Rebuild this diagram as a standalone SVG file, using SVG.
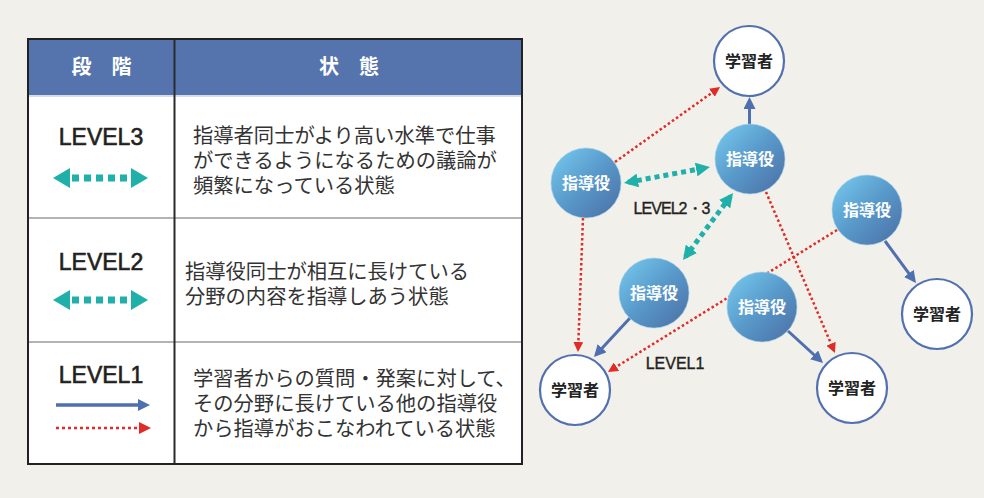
<svg xmlns="http://www.w3.org/2000/svg" width="984" height="498" viewBox="0 0 984 498">
<style>
.desc{font-family:"Noto Sans CJK JP","Noto Sans CJK SC",sans-serif;font-size:20.3px;fill:#333;}
.lvl{font-family:"Liberation Sans",Arial,sans-serif;font-size:23px;fill:#231f20;stroke:#231f20;stroke-width:0.6;text-anchor:middle;}
.lbl{font-family:"Liberation Sans",Arial,sans-serif;font-size:16px;fill:#231f20;stroke:#231f20;stroke-width:0.35;text-anchor:middle;}
.hdr{font-family:"Noto Sans CJK JP","Noto Sans CJK SC",sans-serif;font-size:20px;font-weight:bold;fill:#fff;text-anchor:middle;}
.shido circle{fill:url(#gShido);stroke:#9fd0ea;stroke-width:1;stroke-opacity:0.6;}
.shido text{font-family:"Noto Sans CJK JP","Noto Sans CJK SC",sans-serif;font-size:16px;font-weight:bold;fill:#fff;text-anchor:middle;}
.gaku circle{fill:#fff;stroke:#5270b0;stroke-width:2.2;}
.gaku text{font-family:"Noto Sans CJK JP","Noto Sans CJK SC",sans-serif;font-size:16px;font-weight:bold;fill:#222;text-anchor:middle;}
.blue{stroke:#4f6fb0;stroke-width:3;fill:none;marker-end:url(#mBlue);}
.red{stroke:#e02b27;stroke-width:2.5;stroke-dasharray:2.5 2.5;fill:none;marker-end:url(#mRed);}
.teal{stroke:#1fb0aa;stroke-width:5;stroke-dasharray:5 4;fill:none;marker-start:url(#mTeal);marker-end:url(#mTeal);}
</style>
<defs>
<linearGradient id="gShido" x1="0" y1="0" x2="1" y2="1">
<stop offset="0" stop-color="#78ccf1"/>
<stop offset="0.5" stop-color="#5899ca"/>
<stop offset="1" stop-color="#4b6da3"/>
</linearGradient>
<marker id="mBlue" viewBox="0 0 12 12" refX="9" refY="6" markerWidth="12" markerHeight="12" markerUnits="userSpaceOnUse" orient="auto"><path d="M0,0 L12,6 L0,12 z" fill="#4f6fb0"/></marker>
<marker id="mRed" viewBox="0 0 10 10" refX="7" refY="5" markerWidth="10" markerHeight="10" markerUnits="userSpaceOnUse" orient="auto"><path d="M0,0 L10,5 L0,10 z" fill="#e02b27"/></marker>
<marker id="mTeal" viewBox="0 0 14 14" refX="10" refY="7" markerWidth="14" markerHeight="14" markerUnits="userSpaceOnUse" orient="auto-start-reverse"><path d="M0,0 L14,7 L0,14 z" fill="#1fb0aa"/></marker>
</defs>
<rect x="0" y="0" width="984" height="498" fill="#f1f0ea"/>

<g id="table">
<rect x="28" y="39" width="494" height="425" fill="#fff"/>
<rect x="28" y="39" width="494" height="56" fill="#5574ae"/>
<line x1="28" y1="96" x2="522" y2="96" stroke="#c8cfdc" stroke-width="1.5"/>
<line x1="28" y1="218" x2="522" y2="218" stroke="#b3b3b3" stroke-width="2"/>
<line x1="28" y1="342" x2="522" y2="342" stroke="#b3b3b3" stroke-width="2"/>
<line x1="174.5" y1="39" x2="174.5" y2="464" stroke="#2a2a2a" stroke-width="2"/>
<rect x="28" y="39" width="494" height="425" fill="none" stroke="#222" stroke-width="2"/>
<text class="hdr" x="101.5" y="74">段　階</text>
<text class="hdr" x="349" y="74">状　態</text>
</g>

<g id="level3">
<text class="lvl" x="101" y="145">LEVEL3</text>
<line x1="72" y1="178" x2="129" y2="178" stroke="#1fb0aa" stroke-width="7" stroke-dasharray="7 5"/>
<polygon points="53,178 70,168 70,188" fill="#1fb0aa"/>
<polygon points="148,178 131,168 131,188" fill="#1fb0aa"/>
<text class="desc" x="193" y="143">指導者同士がより高い水準で仕事</text>
<text class="desc" x="193" y="168">ができるようになるための議論が</text>
<text class="desc" x="193" y="193">頻繁になっている状態</text>
</g>

<g id="level2">
<text class="lvl" x="101" y="270">LEVEL2</text>
<line x1="72" y1="300" x2="129" y2="300" stroke="#1fb0aa" stroke-width="7" stroke-dasharray="7 5"/>
<polygon points="53,300 70,290 70,310" fill="#1fb0aa"/>
<polygon points="148,300 131,290 131,310" fill="#1fb0aa"/>
<text class="desc" x="185" y="279">指導役同士が相互に長けている</text>
<text class="desc" x="185" y="304">分野の内容を指導しあう状態</text>
</g>

<g id="level1">
<text class="lvl" x="101" y="383">LEVEL1</text>
<line x1="56" y1="405" x2="140" y2="405" stroke="#4f6fb0" stroke-width="3.5"/>
<polygon points="150,405 138,399 138,411" fill="#4f6fb0"/>
<line x1="56" y1="428" x2="140" y2="428" stroke="#e02b27" stroke-width="2.5" stroke-dasharray="3 3"/>
<polygon points="151,428 139,422 139,434" fill="#e02b27"/>
<text class="desc" x="193" y="386">学習者からの質問・発案に対して、</text>
<text class="desc" x="193" y="411">その分野に長けている他の指導役</text>
<text class="desc" x="193" y="436">から指導がおこなわれている状態</text>
</g>

<g id="connectors">
<line class="blue" x1="749.5" y1="124" x2="749.5" y2="100"/>
<line class="red" x1="615" y1="162" x2="717.6" y2="88.7"/>
<line class="red" x1="583" y1="218" x2="578.1" y2="349"/>
<line class="red" x1="837" y1="230" x2="610.5" y2="370.4"/>
<line class="red" x1="766" y1="192" x2="833.8" y2="350.2"/>
<line class="blue" x1="630" y1="318" x2="596" y2="354.8"/>
<line class="blue" x1="788" y1="331" x2="820.8" y2="361"/>
<line class="blue" x1="885" y1="241" x2="914.2" y2="280.6"/>
<line class="teal" x1="628" y1="182.3" x2="706" y2="167.7"/>
<line class="teal" x1="730.6" y1="196.2" x2="685.4" y2="256.8"/>
</g>

<g id="labels">
<text class="lbl" x="672" y="214" textLength="77" lengthAdjust="spacing">LEVEL2・3</text>
<text class="lbl" x="675" y="369">LEVEL1</text>
</g>

<g id="gakushu-top" class="gaku"><circle cx="749" cy="61" r="35"/><text x="749" y="67">学習者</text></g>
<g id="shido-topright" class="shido"><circle cx="750" cy="159" r="35"/><text x="750" y="165">指導役</text></g>
<g id="shido-left" class="shido"><circle cx="586" cy="183" r="35"/><text x="586" y="189">指導役</text></g>
<g id="shido-right" class="shido"><circle cx="867" cy="210" r="35"/><text x="867" y="216">指導役</text></g>
<g id="shido-midleft" class="shido"><circle cx="654" cy="293" r="35"/><text x="654" y="299">指導役</text></g>
<g id="shido-mid" class="shido"><circle cx="762" cy="307" r="35"/><text x="762" y="313">指導役</text></g>
<g id="gakushu-right" class="gaku"><circle cx="937" cy="314" r="35"/><text x="937" y="320">学習者</text></g>
<g id="gakushu-bottomleft" class="gaku"><circle cx="575" cy="390" r="35"/><text x="575" y="396">学習者</text></g>
<g id="gakushu-bottommid" class="gaku"><circle cx="852" cy="388" r="35"/><text x="852" y="394">学習者</text></g>
</svg>
